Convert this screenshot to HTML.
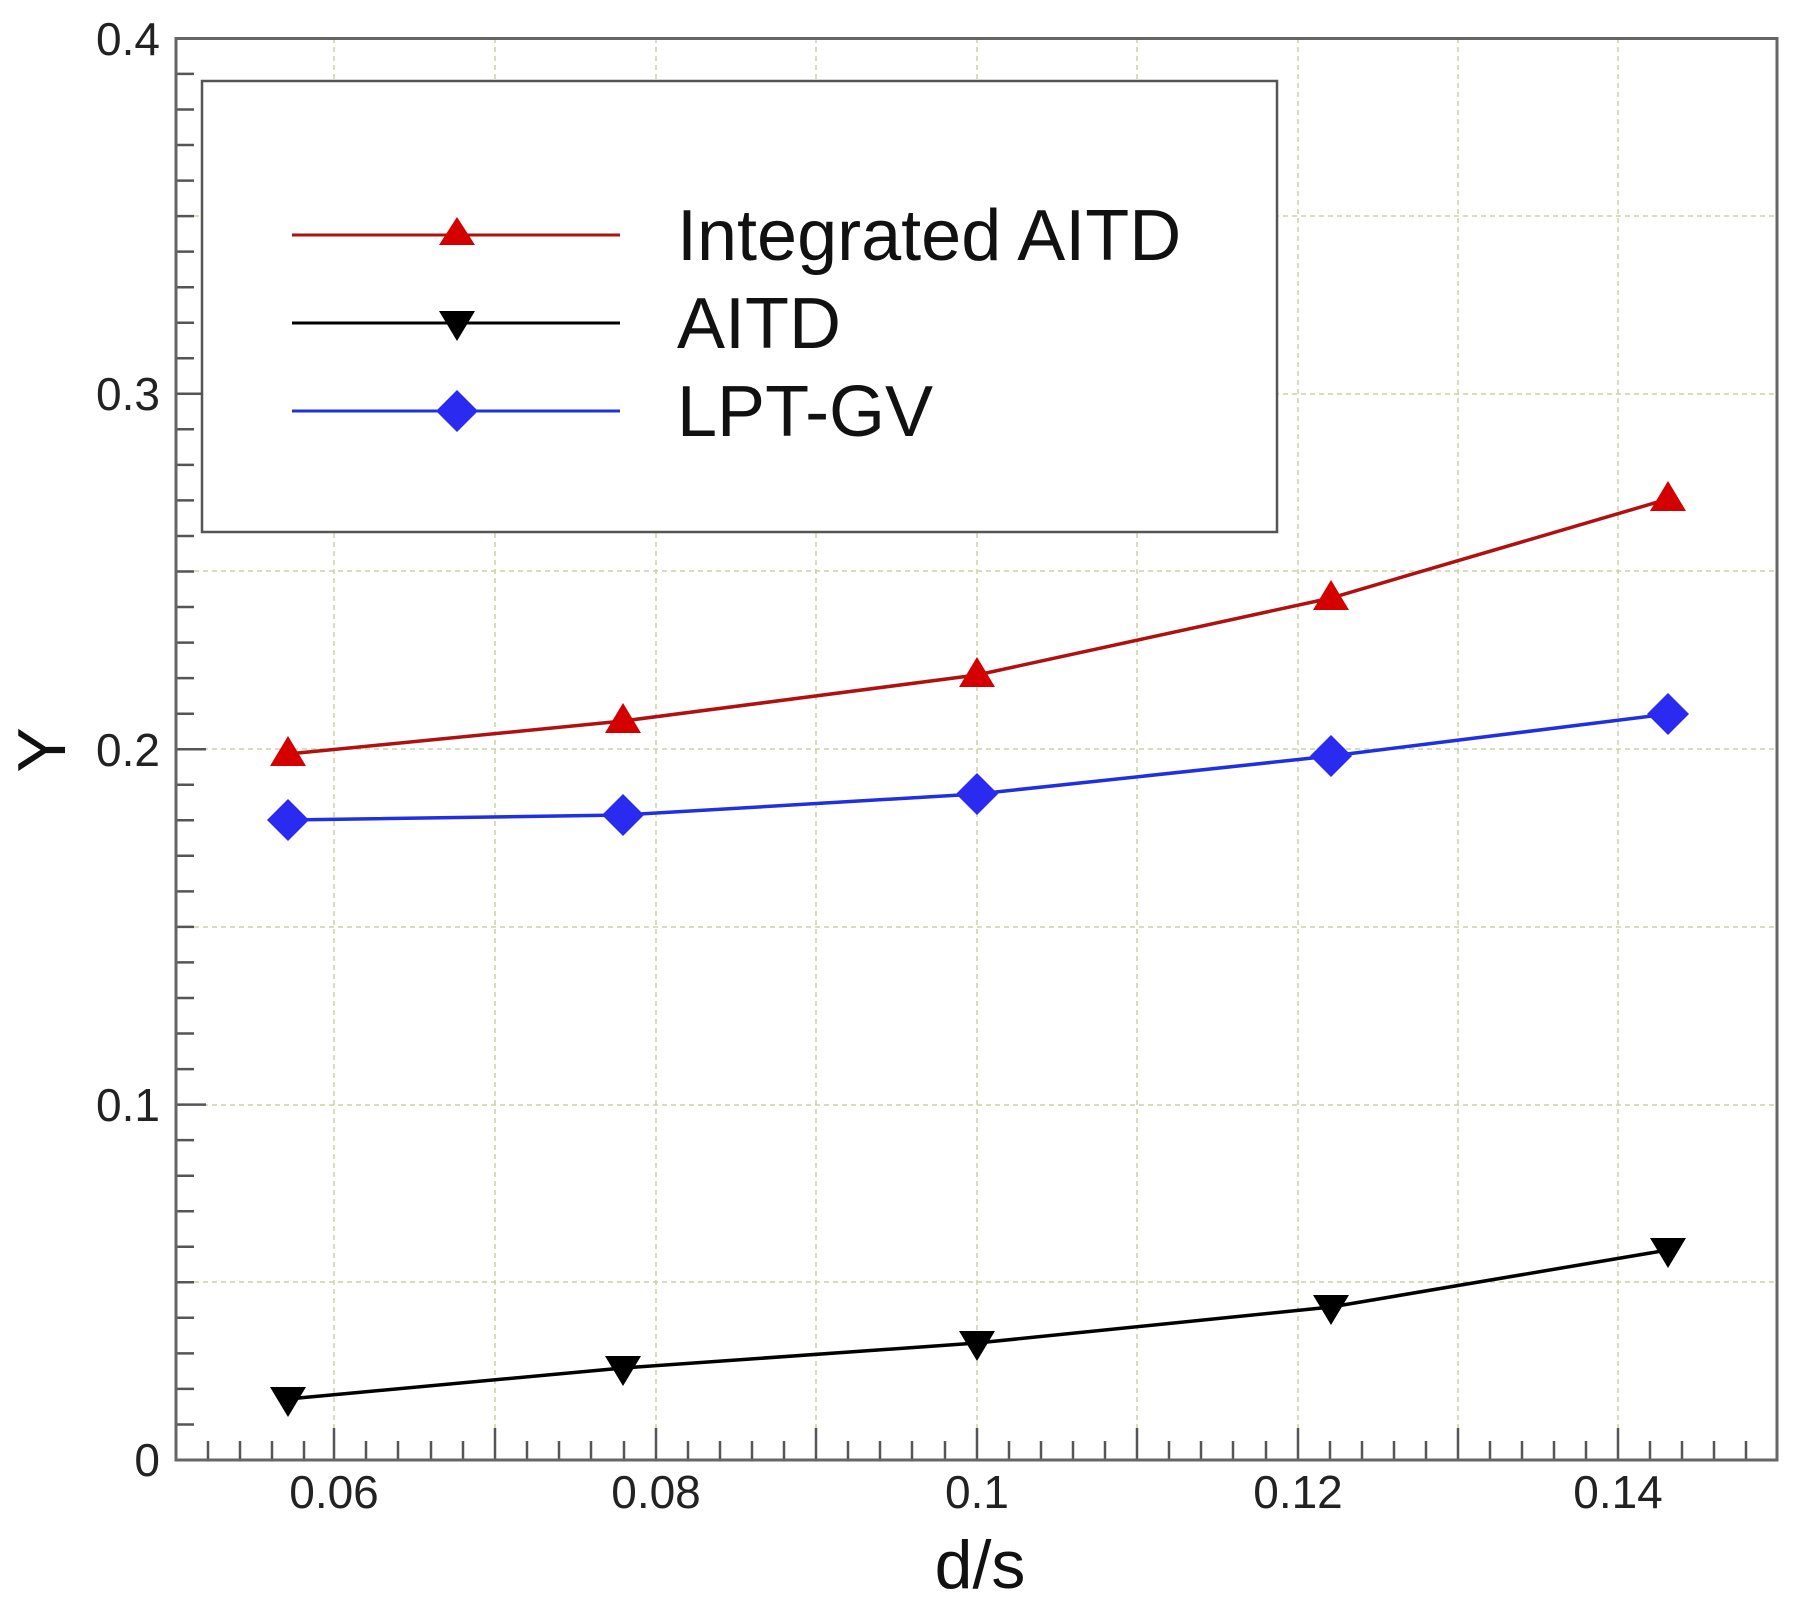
<!DOCTYPE html>
<html><head><meta charset="utf-8"><style>html,body{margin:0;padding:0;background:#fff}svg{display:block}</style></head><body>
<svg width="1798" height="1610" viewBox="0 0 1798 1610" xmlns="http://www.w3.org/2000/svg" font-family="Liberation Sans, Arial, sans-serif">
<rect width="1798" height="1610" fill="#fff"/>
<g stroke="#c9d3a6" stroke-width="1.5" stroke-dasharray="5,4">
<line x1="334" y1="38" x2="334" y2="1460"/><line x1="495" y1="38" x2="495" y2="1460"/><line x1="656" y1="38" x2="656" y2="1460"/><line x1="816" y1="38" x2="816" y2="1460"/><line x1="977" y1="38" x2="977" y2="1460"/><line x1="1137" y1="38" x2="1137" y2="1460"/><line x1="1298" y1="38" x2="1298" y2="1460"/><line x1="1458" y1="38" x2="1458" y2="1460"/><line x1="1618" y1="38" x2="1618" y2="1460"/>
<line x1="176" y1="216" x2="1777" y2="216"/><line x1="176" y1="394" x2="1777" y2="394"/><line x1="176" y1="571" x2="1777" y2="571"/><line x1="176" y1="749" x2="1777" y2="749"/><line x1="176" y1="927" x2="1777" y2="927"/><line x1="176" y1="1105" x2="1777" y2="1105"/><line x1="176" y1="1282" x2="1777" y2="1282"/>
</g>
<path stroke="#555" stroke-width="2.5" fill="none" d="
M176 1424.5h18M176 1388.9h18M176 1353.4h18M176 1317.8h18M176 1282.3h18M176 1246.8h18M176 1211.2h18M176 1175.7h18M176 1140.1h18M176 1104.6h30
M176 1069.1h18M176 1033.5h18M176 998h18M176 962.4h18M176 926.9h18M176 891.4h18M176 855.8h18M176 820.3h18M176 784.7h18M176 749.2h30
M176 713.7h18M176 678.1h18M176 642.6h18M176 607h18M176 571.5h18M176 536h18M176 500.4h18M176 464.9h18M176 429.3h18M176 393.8h30
M176 358.3h18M176 322.7h18M176 287.2h18M176 251.6h18M176 216.1h18M176 180.6h18M176 145h18M176 109.5h18M176 73.9h18
M208 1460v-19M240 1460v-19M272 1460v-19M304 1460v-19M334 1460v-32
M366 1460v-19M398 1460v-19M431 1460v-19M463 1460v-19M495 1460v-32
M527 1460v-19M559 1460v-19M591 1460v-19M624 1460v-19M656 1460v-32
M688 1460v-19M720 1460v-19M752 1460v-19M784 1460v-19M816 1460v-32
M848 1460v-19M880 1460v-19M912 1460v-19M945 1460v-19M977 1460v-32
M1009 1460v-19M1041 1460v-19M1073 1460v-19M1105 1460v-19M1137 1460v-32
M1169 1460v-19M1201 1460v-19M1233 1460v-19M1266 1460v-19M1298 1460v-32
M1330 1460v-19M1362 1460v-19M1394 1460v-19M1426 1460v-19M1458 1460v-32
M1490 1460v-19M1522 1460v-19M1554 1460v-19M1586 1460v-19M1618 1460v-32
M1650 1460v-19M1682 1460v-19M1714 1460v-19M1746 1460v-19"/>
<rect x="176" y="38.5" width="1601" height="1421.5" fill="none" stroke="#666" stroke-width="3"/>
<g font-size="46" fill="#222" text-anchor="end">
<text x="160" y="55">0.4</text><text x="160" y="410">0.3</text><text x="160" y="766">0.2</text><text x="160" y="1121">0.1</text><text x="160" y="1476">0</text>
</g>
<g font-size="46" fill="#222" text-anchor="middle">
<text x="334" y="1508">0.06</text><text x="656" y="1508">0.08</text><text x="977" y="1508">0.1</text><text x="1298" y="1508">0.12</text><text x="1618" y="1508">0.14</text>
</g>
<text x="980" y="1588" font-size="68" text-anchor="middle" fill="#111">d/s</text>
<text transform="translate(65,750) rotate(-90)" font-size="68" text-anchor="middle" fill="#111">Y</text>
<rect x="202" y="81" width="1075" height="451" fill="#fff" stroke="#555" stroke-width="2.5"/>
<line x1="292" y1="235" x2="620" y2="235" stroke="#b01010" stroke-width="3"/>
<polygon points="457,217 475,245 439,245" fill="#d40000"/>
<line x1="292" y1="323" x2="620" y2="323" stroke="#000" stroke-width="3"/>
<polygon points="439,311 475,311 457,341" fill="#000"/>
<line x1="292" y1="411" x2="620" y2="411" stroke="#2030e0" stroke-width="3"/>
<polygon points="457,390 478,411 457,432 436,411" fill="#2a2af0"/>
<g font-size="72" fill="#111"><text x="677" y="260">Integrated AITD</text><text x="677" y="348">AITD</text><text x="677" y="436">LPT-GV</text></g>
<polyline points="288,754 623,721 977,675 1331,598 1668,499" fill="none" stroke="#b01010" stroke-width="3.5"/>
<g fill="#d40000">
<polygon points="288,736 306,766 270,766"/><polygon points="623,703 641,733 605,733"/><polygon points="977,657 995,687 959,687"/><polygon points="1331,580 1349,610 1313,610"/><polygon points="1668,481 1686,511 1650,511"/>
</g>
<polyline points="288,820 623,815 977,794 1331,756 1668,714" fill="none" stroke="#2030e0" stroke-width="3.5"/>
<g fill="#2a2af0">
<polygon points="288,799 309,820 288,841 267,820"/><polygon points="623,794 644,815 623,836 602,815"/><polygon points="977,773 998,794 977,815 956,794"/><polygon points="1331,735 1352,756 1331,777 1310,756"/><polygon points="1668,693 1689,714 1668,735 1647,714"/>
</g>
<polyline points="288,1399 623,1368 977,1343 1331,1307 1668,1250" fill="none" stroke="#000" stroke-width="3.5"/>
<g fill="#000">
<polygon points="270,1387 306,1387 288,1417"/><polygon points="605,1356 641,1356 623,1386"/><polygon points="959,1331 995,1331 977,1361"/><polygon points="1313,1295 1349,1295 1331,1325"/><polygon points="1650,1238 1686,1238 1668,1268"/>
</g>
</svg>
</body></html>
